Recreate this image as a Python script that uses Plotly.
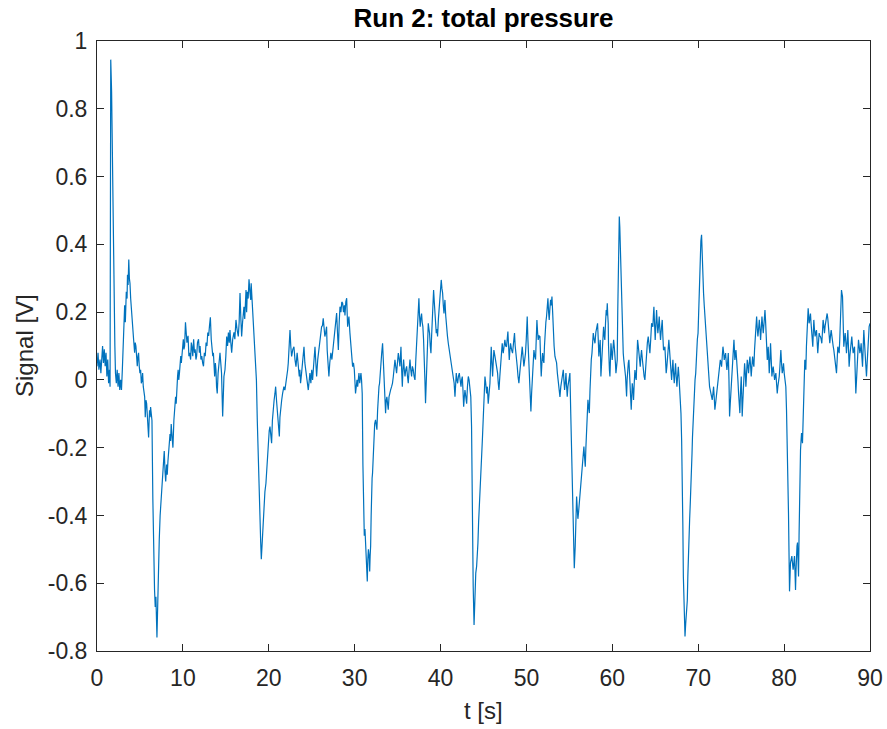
import plotly.graph_objects as go

# (t [s], signal [V]) samples, by segment
seg_00_15 = [(0.0,0.04),(0.12,0.08),(0.22,0.03),(0.35,0.06),(0.45,0.02),(0.55,0.07),(0.65,0.10),(0.75,0.05),(0.85,0.09),(0.95,0.04),(1.05,0.08),(1.15,0.01),(1.25,0.06),(1.35,-0.01),(1.45,0.03),(1.52,-0.02),(1.6,0.945),(1.7,0.85),(1.8,0.60),(1.9,0.38),(2.0,0.20),(2.08,0.10),(2.15,0.02),(2.25,-0.01),(2.35,0.03),(2.45,-0.02),(2.55,0.02),(2.65,-0.03),(2.75,0.00),(2.85,-0.03),(2.95,0.03),(3.05,0.10),(3.12,0.13),(3.22,0.22),(3.3,0.17),(3.41,0.26),(3.5,0.24),(3.55,0.31),(3.62,0.28),(3.7,0.355),(3.77,0.30),(3.84,0.285),(3.92,0.24),(3.99,0.22),(4.07,0.19),(4.15,0.15),(4.26,0.12),(4.38,0.08),(4.45,0.11),(4.53,0.10),(4.6,0.06),(4.69,0.04),(4.77,0.07),(4.84,0.08),(4.92,0.04),(5.0,0.02),(5.08,0.03),(5.16,-0.01),(5.24,0.00),(5.31,0.02),(5.39,-0.02),(5.47,-0.04),(5.55,-0.05),(5.62,-0.11),(5.7,-0.06),(5.78,-0.07),(5.86,-0.12),(5.93,-0.15),(6.01,-0.17),(6.07,-0.12),(6.12,-0.09),(6.18,-0.11),(6.24,-0.08),(6.32,-0.10),(6.4,-0.12),(6.5,-0.35),(6.59,-0.50),(6.7,-0.62),(6.78,-0.67),(6.86,-0.64),(6.98,-0.76),(7.1,-0.59),(7.25,-0.47),(7.35,-0.40),(7.45,-0.36),(7.55,-0.30),(7.64,-0.29),(7.75,-0.24),(7.83,-0.21),(7.92,-0.27),(8.0,-0.30),(8.1,-0.25),(8.18,-0.28),(8.26,-0.24),(8.33,-0.22),(8.4,-0.20),(8.5,-0.16),(8.57,-0.18),(8.64,-0.13),(8.75,-0.17),(8.84,-0.20),(8.95,-0.12),(9.03,-0.10),(9.15,-0.05),(9.22,-0.07),(9.3,-0.01),(9.38,0.01),(9.45,0.03),(9.52,0.00),(9.6,0.02),(9.68,0.06),(9.75,0.07),(9.82,0.05),(9.9,0.08),(9.98,0.10),(10.05,0.12),(10.12,0.09),(10.2,0.10),(10.3,0.17),(10.4,0.12),(10.47,0.11),(10.6,0.13),(10.7,0.07),(10.78,0.08),(10.9,0.06),(10.98,0.11),(11.05,0.10),(11.15,0.07),(11.25,0.12),(11.35,0.08),(11.43,0.09),(11.52,0.06),(11.6,0.07),(11.7,0.11),(11.82,0.12),(11.92,0.08),(12.0,0.10),(12.1,0.06),(12.2,0.07),(12.3,0.05),(12.4,0.04),(12.5,0.08),(12.6,0.07),(12.7,0.11),(12.8,0.10),(12.9,0.14),(13.0,0.13),(13.1,0.16),(13.2,0.185),(13.3,0.12),(13.4,0.10),(13.48,0.07),(13.55,0.08),(13.62,0.04),(13.7,0.01),(13.78,0.05),(13.85,0.03),(13.92,-0.02),(14.0,-0.04),(14.1,0.02),(14.2,0.06),(14.32,0.08)]

seg_15_30 = [(14.5,0.02),(14.63,-0.108),(14.78,0.01),(14.9,0.03),(15.0,0.07),(15.1,0.128),(15.2,0.10),(15.3,0.14),(15.4,0.11),(15.48,0.147),(15.58,0.11),(15.68,0.08),(15.8,0.12),(15.95,0.14),(16.05,0.12),(16.18,0.177),(16.3,0.15),(16.45,0.128),(16.55,0.17),(16.65,0.256),(16.75,0.18),(16.84,0.128),(16.95,0.17),(17.02,0.20),(17.11,0.216),(17.2,0.18),(17.28,0.24),(17.35,0.265),(17.42,0.20),(17.5,0.26),(17.6,0.24),(17.7,0.297),(17.8,0.26),(17.9,0.236),(17.95,0.285),(18.05,0.24),(18.2,0.177),(18.33,0.12),(18.47,0.06),(18.56,0.00),(18.66,-0.118),(18.76,-0.23),(18.86,-0.344),(18.98,-0.442),(19.06,-0.48),(19.13,-0.529),(19.22,-0.48),(19.29,-0.44),(19.36,-0.40),(19.44,-0.374),(19.55,-0.33),(19.67,-0.305),(19.77,-0.26),(19.87,-0.216),(19.95,-0.17),(20.05,-0.15),(20.14,-0.138),(20.24,-0.16),(20.33,-0.187),(20.42,-0.12),(20.52,-0.079),(20.62,-0.06),(20.72,-0.04),(20.8,-0.02),(20.9,-0.06),(20.99,-0.098),(21.1,-0.13),(21.23,-0.167),(21.3,-0.11),(21.38,-0.08),(21.5,-0.06),(21.61,-0.04),(21.7,-0.03),(21.76,-0.02),(21.88,-0.03),(22.0,-0.01),(22.1,0.01),(22.2,0.03),(22.27,0.05),(22.37,0.10),(22.47,0.147),(22.56,0.10),(22.66,0.069),(22.8,0.09),(22.93,0.098),(23.05,0.06),(23.17,0.039),(23.3,0.08),(23.42,0.05),(23.55,0.01),(23.62,0.03),(23.7,-0.01),(23.82,0.02),(23.94,0.05),(24.02,0.07),(24.1,0.098),(24.2,0.05),(24.33,0.01),(24.45,0.00),(24.6,-0.03),(24.7,0.00),(24.79,0.02),(24.9,-0.01),(25.0,0.03),(25.1,0.0),(25.22,0.05),(25.38,0.098),(25.48,0.05),(25.57,0.01),(25.7,0.06),(25.88,0.108),(26.0,0.13),(26.15,0.157),(26.25,0.16),(26.34,0.182),(26.45,0.15),(26.53,0.128),(26.63,0.14),(26.73,0.157),(26.8,0.088),(26.9,0.04),(27.0,0.01),(27.1,0.05),(27.23,0.08),(27.35,0.06),(27.5,0.098),(27.6,0.12),(27.7,0.147),(27.8,0.17),(27.9,0.197),(28.0,0.14),(28.1,0.088),(28.2,0.17),(28.29,0.216),(28.4,0.20),(28.5,0.23),(28.6,0.226),(28.7,0.20),(28.8,0.22),(28.87,0.19),(28.97,0.23),(29.07,0.241),(29.18,0.157),(29.26,0.18),(29.33,0.187),(29.45,0.138)]

seg_30_44 = [(29.55,0.10),(29.65,0.079),(29.76,0.039),(29.86,0.05),(29.96,0.03),(30.1,-0.04),(30.2,-0.01),(30.27,0.0),(30.35,-0.02),(30.4,0.01),(30.5,0.02),(30.59,-0.01),(30.66,0.00),(30.73,0.02),(30.8,0.00),(30.88,-0.04),(30.96,-0.25),(31.04,-0.452),(31.12,-0.46),(31.2,-0.44),(31.28,-0.48),(31.35,-0.511),(31.41,-0.55),(31.47,-0.595),(31.53,-0.53),(31.6,-0.50),(31.68,-0.52),(31.75,-0.565),(31.8,-0.52),(31.86,-0.49),(31.92,-0.40),(31.97,-0.305),(32.03,-0.29),(32.08,-0.276),(32.16,-0.22),(32.24,-0.157),(32.33,-0.13),(32.43,-0.118),(32.5,-0.13),(32.59,-0.147),(32.67,-0.09),(32.75,-0.04),(32.83,-0.02),(32.9,-0.01),(32.98,0.03),(33.06,0.05),(33.15,0.08),(33.25,0.108),(33.35,0.06),(33.45,0.01),(33.52,-0.05),(33.6,-0.098),(33.67,-0.06),(33.75,-0.05),(33.83,-0.07),(33.91,-0.088),(34.0,-0.05),(34.07,-0.04),(34.18,-0.03),(34.3,-0.02),(34.4,-0.01),(34.5,0.01),(34.6,0.03),(34.69,0.059),(34.78,0.04),(34.88,0.02),(34.98,0.05),(35.08,0.079),(35.18,0.06),(35.27,0.04),(35.33,0.07),(35.39,0.098),(35.47,0.03),(35.55,-0.02),(35.62,0.03),(35.7,0.06),(35.78,0.03),(35.86,0.01),(35.95,0.03),(36.05,0.04),(36.15,0.01),(36.24,-0.01),(36.34,0.03),(36.44,0.06),(36.53,0.03),(36.63,0.01),(36.72,0.04),(36.82,0.03),(36.92,0.01),(37.02,0.0),(37.12,0.06),(37.21,0.108),(37.27,0.15),(37.33,0.187),(37.4,0.21),(37.48,0.241),(37.55,0.19),(37.63,0.157),(37.7,0.18),(37.79,0.196),(37.86,0.17),(37.94,0.157),(38.02,0.12),(38.1,0.079),(38.18,0.00),(38.25,-0.069),(38.33,-0.02),(38.41,0.03),(38.49,0.10),(38.57,0.167),(38.65,0.15),(38.72,0.138),(38.8,0.10),(38.88,0.079),(38.96,0.13),(39.03,0.177),(39.11,0.22),(39.19,0.265),(39.27,0.23),(39.34,0.196),(39.42,0.16),(39.5,0.138),(39.58,0.15),(39.65,0.128),(39.75,0.18),(39.82,0.21),(39.89,0.236),(39.98,0.26),(40.08,0.295),(40.16,0.27),(40.24,0.256),(40.32,0.22),(40.4,0.196),(40.46,0.22),(40.51,0.236),(40.6,0.19),(40.7,0.147),(40.8,0.13),(40.9,0.108),(41.0,0.09),(41.1,0.069),(41.2,0.06),(41.29,0.039),(41.38,0.03),(41.48,0.01),(41.58,-0.01),(41.68,-0.05),(41.75,0.00),(41.83,0.02),(41.91,0.00),(41.99,-0.01),(42.08,0.01),(42.18,0.02),(42.28,0.00),(42.38,-0.02),(42.45,0.00),(42.53,0.01),(42.61,-0.03),(42.69,-0.079),(42.77,-0.05),(42.84,-0.03),(42.94,-0.05),(43.04,-0.07),(43.13,-0.02),(43.23,0.01),(43.32,0.00),(43.42,-0.02),(43.52,-0.05),(43.61,-0.138),(43.7,-0.40),(43.8,-0.61),(43.9,-0.723)]

seg_44_58 = [(44.0,-0.59),(44.1,-0.57),(44.2,-0.55),(44.28,-0.52),(44.35,-0.482),(44.43,-0.42),(44.51,-0.364),(44.58,-0.33),(44.66,-0.295),(44.72,-0.26),(44.78,-0.226),(44.88,-0.17),(44.97,-0.108),(45.07,-0.05),(45.17,0.01),(45.26,-0.01),(45.36,-0.04),(45.45,-0.02),(45.55,-0.07),(45.65,-0.04),(45.75,-0.01),(45.82,0.04),(45.9,0.098),(45.98,0.05),(46.06,0.01),(46.13,0.05),(46.21,0.088),(46.33,0.07),(46.45,0.05),(46.55,0.03),(46.64,0.02),(46.72,-0.01),(46.8,-0.03),(46.9,0.01),(47.0,0.05),(47.09,0.08),(47.18,0.108),(47.24,0.09),(47.3,0.079),(47.4,0.10),(47.49,0.118),(47.58,0.10),(47.68,0.098),(47.76,0.12),(47.84,0.143),(47.92,0.10),(48.0,0.059),(48.08,0.09),(48.15,0.108),(48.26,0.09),(48.38,0.079),(48.5,0.11),(48.61,0.138),(48.69,0.10),(48.77,0.069),(48.85,0.05),(48.93,0.039),(49.02,0.01),(49.12,-0.01),(49.22,0.02),(49.31,0.039),(49.41,0.07),(49.51,0.098),(49.6,0.07),(49.7,0.04),(49.8,0.06),(49.89,0.079),(49.98,0.12),(50.04,0.16),(50.09,0.187),(50.17,0.12),(50.25,0.06),(50.33,0.01),(50.41,-0.04),(50.47,-0.07),(50.52,-0.093),(50.6,-0.04),(50.68,0.0),(50.78,0.05),(50.87,0.088),(50.96,0.07),(51.06,0.06),(51.14,0.12),(51.22,0.177),(51.3,0.14),(51.37,0.118),(51.47,0.13),(51.57,0.128),(51.64,0.07),(51.72,0.01),(51.8,0.05),(51.88,0.079),(51.95,0.06),(52.03,0.05),(52.1,0.10),(52.18,0.147),(52.26,0.17),(52.34,0.187),(52.42,0.22),(52.5,0.241),(52.58,0.20),(52.65,0.177),(52.73,0.21),(52.81,0.236),(52.89,0.22),(52.97,0.246),(53.05,0.20),(53.12,0.147),(53.22,0.10),(53.32,0.069),(53.42,0.06),(53.51,0.05),(53.6,0.02),(53.7,-0.01),(53.8,-0.03),(53.9,-0.05),(54.0,-0.02),(54.09,0.0),(54.19,0.02),(54.29,0.03),(54.36,0.00),(54.44,-0.03),(54.52,-0.01),(54.6,0.02),(54.68,-0.02),(54.75,-0.05),(54.83,-0.02),(54.91,0.0),(54.98,0.01),(55.06,0.02),(55.16,-0.10),(55.26,-0.236),(55.35,-0.36),(55.45,-0.492),(55.57,-0.556),(55.68,-0.49),(55.76,-0.42),(55.84,-0.344),(55.92,-0.38),(55.99,-0.41),(56.07,-0.39),(56.15,-0.364),(56.25,-0.34),(56.34,-0.315),(56.44,-0.27),(56.54,-0.236),(56.62,-0.21),(56.69,-0.197),(56.77,-0.23),(56.85,-0.256),(56.92,-0.20),(57.0,-0.157),(57.08,-0.10),(57.16,-0.059),(57.24,-0.08),(57.32,-0.098),(57.4,-0.03),(57.47,0.03),(57.55,0.06),(57.63,0.079),(57.7,0.11),(57.78,0.138),(57.88,0.12),(57.98,0.108),(58.08,0.14),(58.17,0.157),(58.28,0.167),(58.36,0.12),(58.43,0.069)]

seg_58_74 = [(58.52,0.10),(58.59,0.118),(58.67,0.01),(58.75,0.05),(58.82,0.079),(58.9,0.12),(58.98,0.157),(59.06,0.13),(59.13,0.118),(59.21,0.17),(59.29,0.206),(59.35,0.19),(59.41,0.226),(59.47,0.19),(59.52,0.167),(59.56,0.10),(59.6,0.039),(59.66,0.03),(59.72,0.01),(59.78,0.07),(59.84,0.108),(59.92,0.08),(59.99,0.059),(60.07,0.09),(60.15,0.118),(60.22,0.10),(60.3,0.079),(60.36,0.05),(60.42,0.02),(60.5,0.04),(60.57,0.059),(60.63,0.20),(60.69,0.383),(60.75,0.44),(60.81,0.482),(60.87,0.45),(60.92,0.393),(60.98,0.33),(61.04,0.265),(61.1,0.21),(61.16,0.157),(61.21,0.12),(61.27,0.079),(61.33,0.06),(61.39,0.049),(61.47,0.03),(61.54,0.01),(61.6,-0.02),(61.66,-0.049),(61.72,0.00),(61.78,0.039),(61.86,0.05),(61.93,0.059),(62.01,0.02),(62.09,-0.02),(62.15,-0.05),(62.2,-0.088),(62.26,-0.05),(62.32,-0.01),(62.4,-0.03),(62.47,-0.059),(62.55,-0.01),(62.63,0.029),(62.7,0.01),(62.78,0.0),(62.86,0.06),(62.94,0.118),(63.02,0.10),(63.09,0.079),(63.17,0.06),(63.25,0.039),(63.33,0.07),(63.4,0.088),(63.5,0.06),(63.6,0.029),(63.7,0.01),(63.79,0.0),(63.89,0.05),(63.99,0.098),(64.08,0.11),(64.18,0.128),(64.28,0.10),(64.37,0.079),(64.47,0.12),(64.57,0.167),(64.65,0.16),(64.72,0.157),(64.78,0.19),(64.84,0.216),(64.91,0.17),(64.99,0.118),(65.07,0.16),(65.15,0.206),(65.22,0.17),(65.3,0.138),(65.38,0.16),(65.46,0.187),(65.53,0.15),(65.61,0.118),(65.71,0.15),(65.81,0.177),(65.88,0.13),(65.96,0.088),(66.04,0.09),(66.12,0.098),(66.2,0.06),(66.27,0.02),(66.35,0.04),(66.43,0.059),(66.5,0.09),(66.58,0.118),(66.66,0.09),(66.74,0.069),(66.82,0.03),(66.9,0.0),(66.98,0.03),(67.05,0.059),(67.13,0.02),(67.21,-0.01),(67.28,0.02),(67.36,0.049),(67.44,0.01),(67.52,-0.02),(67.6,0.01),(67.68,0.039),(67.76,0.01),(67.83,-0.02),(67.91,-0.05),(67.99,-0.098),(68.07,-0.18),(68.15,-0.275),(68.21,-0.43),(68.27,-0.58),(68.33,-0.64),(68.38,-0.698),(68.42,-0.73),(68.46,-0.757),(68.54,-0.72),(68.61,-0.69),(68.67,-0.67),(68.73,-0.65),(68.79,-0.58),(68.85,-0.511),(68.92,-0.46),(69.0,-0.413),(69.08,-0.36),(69.16,-0.315),(69.22,-0.27),(69.28,-0.216),(69.33,-0.17),(69.39,-0.128),(69.47,-0.07),(69.55,-0.01),(69.63,0.00),(69.71,0.02),(69.76,0.06),(69.82,0.098),(69.9,0.12),(69.98,0.138),(70.05,0.19),(70.12,0.256),(70.18,0.32),(70.24,0.383),(70.31,0.41),(70.39,0.428),(70.44,0.37),(70.5,0.315),(70.56,0.28),(70.62,0.256),(70.7,0.22),(70.78,0.187),(70.87,0.15),(70.97,0.118),(71.07,0.08),(71.17,0.049),(71.25,0.01),(71.32,-0.02),(71.4,-0.03),(71.48,-0.04),(71.55,-0.05),(71.63,-0.059),(71.71,-0.04),(71.79,-0.02),(71.86,-0.05),(71.94,-0.088),(72.02,-0.07),(72.1,-0.049),(72.18,-0.03),(72.25,-0.01),(72.33,0.00),(72.41,0.02),(72.49,0.04),(72.57,0.059),(72.65,0.05),(72.72,0.039),(72.8,0.07),(72.88,0.098),(72.96,0.08),(73.03,0.059),(73.11,0.07),(73.19,0.079),(73.27,0.05),(73.34,0.029),(73.42,0.05),(73.5,0.079),(73.58,0.00),(73.65,-0.108),(73.73,-0.07),(73.81,-0.03),(73.9,0.02),(73.98,0.059),(74.07,0.09),(74.16,0.118)]

seg_74_90 = [(74.27,0.059),(74.33,0.07),(74.39,0.088),(74.47,0.06),(74.55,0.039),(74.62,0.00),(74.7,-0.04),(74.78,-0.07),(74.85,-0.098),(74.93,-0.03),(75.01,0.01),(75.07,-0.05),(75.12,-0.108),(75.18,-0.07),(75.24,-0.03),(75.32,0.01),(75.4,0.049),(75.48,0.02),(75.55,-0.02),(75.63,0.02),(75.71,0.059),(75.79,0.04),(75.86,0.02),(75.94,0.05),(76.02,0.069),(76.1,0.04),(76.17,0.01),(76.25,0.04),(76.33,0.069),(76.4,0.05),(76.48,0.039),(76.56,0.09),(76.64,0.138),(76.72,0.16),(76.8,0.187),(76.88,0.15),(76.95,0.128),(77.03,0.15),(77.11,0.177),(77.19,0.15),(77.26,0.118),(77.34,0.15),(77.42,0.187),(77.5,0.16),(77.57,0.138),(77.67,0.17),(77.77,0.206),(77.83,0.18),(77.88,0.147),(77.96,0.10),(78.04,0.059),(78.1,0.08),(78.15,0.098),(78.21,0.06),(78.27,0.02),(78.35,0.06),(78.42,0.108),(78.5,0.06),(78.58,0.01),(78.66,0.03),(78.73,0.039),(78.81,0.02),(78.89,0.0),(78.96,0.01),(79.04,0.02),(79.12,-0.01),(79.2,-0.04),(79.27,-0.02),(79.35,-0.01),(79.43,0.01),(79.51,0.039),(79.57,0.06),(79.62,0.088),(79.7,0.05),(79.78,0.02),(79.85,0.03),(79.93,0.049),(80.01,0.02),(80.09,-0.01),(80.15,-0.015),(80.2,-0.02),(80.28,-0.09),(80.36,-0.167),(80.44,-0.28),(80.51,-0.393),(80.57,-0.51),(80.63,-0.624),(80.69,-0.58),(80.74,-0.54),(80.82,-0.53),(80.9,-0.52),(80.97,-0.54),(81.05,-0.56),(81.13,-0.54),(81.21,-0.52),(81.27,-0.57),(81.33,-0.62),(81.39,-0.56),(81.44,-0.50),(81.5,-0.49),(81.56,-0.48),(81.62,-0.53),(81.68,-0.58),(81.74,-0.46),(81.79,-0.344),(81.85,-0.27),(81.91,-0.207),(81.97,-0.18),(82.03,-0.157),(82.08,-0.17),(82.14,-0.187),(82.22,-0.09),(82.3,0.0),(82.36,0.03),(82.41,0.059),(82.47,0.045),(82.53,0.03),(82.6,0.10),(82.68,0.177),(82.74,0.20),(82.8,0.211),(82.86,0.19),(82.91,0.167),(82.99,0.18),(83.07,0.196),(83.13,0.17),(83.19,0.138),(83.27,0.12),(83.34,0.098),(83.4,0.14),(83.46,0.177),(83.53,0.15),(83.61,0.128),(83.69,0.14),(83.77,0.147),(83.85,0.11),(83.92,0.079),(84.0,0.11),(84.08,0.138),(84.15,0.13),(84.23,0.128),(84.31,0.12),(84.39,0.108),(84.46,0.14),(84.54,0.177),(84.62,0.16),(84.7,0.138),(84.78,0.16),(84.86,0.177),(84.93,0.19),(85.01,0.196),(85.09,0.18),(85.17,0.157),(85.25,0.13),(85.32,0.108),(85.4,0.13),(85.48,0.147),(85.56,0.13),(85.63,0.108),(85.71,0.10),(85.79,0.088),(85.86,0.07),(85.94,0.059),(86.02,0.04),(86.1,0.02),(86.18,0.06),(86.25,0.098),(86.33,0.09),(86.41,0.079),(86.48,0.12),(86.56,0.167),(86.62,0.22),(86.68,0.265),(86.74,0.255),(86.8,0.246),(86.88,0.17),(86.95,0.098),(87.03,0.12),(87.11,0.138),(87.19,0.11),(87.26,0.079),(87.34,0.11),(87.42,0.147),(87.5,0.09),(87.57,0.039),(87.65,0.07),(87.73,0.098),(87.8,0.11),(87.88,0.128),(87.96,0.10),(88.04,0.079),(88.12,0.09),(88.2,0.098),(88.27,0.03),(88.35,-0.04),(88.43,0.00),(88.51,0.039),(88.58,0.08),(88.66,0.118),(88.74,0.10),(88.82,0.079),(88.9,0.09),(88.97,0.108),(89.05,0.07),(89.13,0.039),(89.2,0.09),(89.28,0.147),(89.36,0.11),(89.44,0.079),(89.52,0.04),(89.59,0.01),(89.67,0.05),(89.75,0.098),(89.82,0.13),(89.9,0.157),(90.0,0.167)]

x_ticks = [0, 10, 20, 30, 40, 50, 60, 70, 80, 90]
y_ticks = [-0.8, -0.6, -0.4, -0.2, 0, 0.2, 0.4, 0.6, 0.8, 1]
y_tick_labels = ["-0.8", "-0.6", "-0.4", "-0.2", "0", "0.2", "0.4", "0.6", "0.8", "1"]

samples = seg_00_15 + seg_15_30 + seg_30_44 + seg_44_58 + seg_58_74 + seg_74_90
t = [p[0] for p in samples]
v = [p[1] for p in samples]

FONT = "Liberation Sans, Arial, Helvetica, sans-serif"
AX = "#262626"
W, H = 887, 729
ML, MR, MT, MB = 97, 17, 41, 78
PW, PH = W - ML - MR, H - MT - MB

fig = go.Figure()
fig.add_trace(go.Scatter(x=t, y=v, mode="lines",
                         line=dict(color="#0072BD", width=1.2),
                         showlegend=False, hoverinfo="skip"))

axis_common = dict(showline=True, linecolor=AX, linewidth=1, mirror="ticks",
                   ticks="inside", ticklen=7, tickwidth=1, tickcolor=AX,
                   showgrid=False, zeroline=False, automargin=False,
                   tickfont=dict(family=FONT, size=23, color=AX))

fig.update_layout(
    width=W, height=H, autosize=False,
    margin=dict(l=ML, r=MR, t=MT, b=MB, pad=0),
    paper_bgcolor="white", plot_bgcolor="white",
    title=dict(text="<b>Run 2: total pressure</b>", x=0.5, xref="paper",
               xanchor="center", y=1 - 18 / H, yref="container", yanchor="middle",
               font=dict(family=FONT, size=26, color="black")),
    xaxis=dict(range=[0, 90], tickvals=x_ticks, ticklabelstandoff=6, **axis_common),
    yaxis=dict(range=[-0.8, 1], tickvals=y_ticks, ticktext=y_tick_labels,
               ticklabelstandoff=4, **axis_common),
    annotations=[
        dict(text="t [s]", xref="paper", yref="paper", x=0.5, y=-(710 - (H - MB)) / PH,
             xanchor="center", yanchor="middle", showarrow=False,
             font=dict(family=FONT, size=24, color=AX)),
        dict(text="Signal [V]", xref="paper", yref="paper", x=(24 - ML) / PW, y=0.5,
             xanchor="center", yanchor="middle", textangle=-90, showarrow=False,
             font=dict(family=FONT, size=24, color=AX)),
    ],
)

fig.write_html("out.html")
